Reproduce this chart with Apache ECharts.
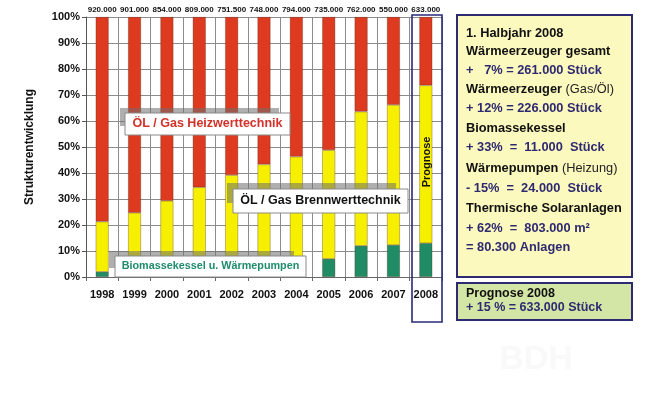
<!DOCTYPE html>
<html>
<head>
<meta charset="utf-8">
<script src="https://cdn.jsdelivr.net/npm/echarts@6/dist/echarts.min.js"></script>
<style>
  html, body { margin: 0; padding: 0; background: #fff; }
  #chart { width: 655px; height: 398px; }
</style>
</head>
<body>
<div id="chart"></div>
<script>
// Jahre
const years = ['1998', '1999', '2000', '2001', '2002', '2003', '2004', '2005', '2006', '2007', '2008'];
// Anteile in %
const biomasse = [2, 2, 2, 2.5, 3, 3.5, 4, 7, 12, 12.3, 13];
const brennwert = [19.3, 22.7, 27.3, 32, 36.2, 39.8, 42.3, 41.8, 51.6, 53.9, 60.7];
const heizwert = [78.7, 75.3, 70.7, 65.5, 60.8, 56.7, 53.7, 51.2, 36.4, 33.8, 26.3];
// Stückzahlen über den Säulen
const totals = ['920.000', '901.000', '854.000', '809.000', '751.500', '748.000', '794.000', '735.000', '762.000', '550.000', '633.000'];
// Kasten rechts
const infoLines = [
    { text: '1. Halbjahr 2008', type: 'head' },
    { text: 'Wärmeerzeuger gesamt', type: 'head' },
    { text: '+   7% = 261.000 Stück', type: 'value' },
    { text: 'Wärmeerzeuger', note: ' (Gas/Öl)', type: 'head' },
    { text: '+ 12% = 226.000 Stück', type: 'value' },
    { text: 'Biomassekessel', type: 'head' },
    { text: '+ 33%  =  11.000  Stück', type: 'value' },
    { text: 'Wärmepumpen', note: ' (Heizung)', type: 'head' },
    { text: '- 15%  =  24.000  Stück', type: 'value' },
    { text: 'Thermische Solaranlagen', type: 'head' },
    { text: '+ 62%  =  803.000 m²', type: 'value' },
    { text: '= 80.300 Anlagen', type: 'value' }
];
const infoY = [33, 51, 70, 89, 108, 128, 147, 168, 188, 208, 228, 247];

const chart = echarts.init(document.getElementById('chart'));

const FONT = 'Liberation Sans, Arial, sans-serif';
const NAVY = '#2e2a72';
const barBorder = { borderColor: 'rgba(80,40,20,0.55)', borderWidth: 0.6 };

// Hinweis-Kästchen mit grauem Schatten
function labelBox(x, y, w, h, dx, dy, text, color, size) {
    return [
        { type: 'rect', z: 100, shape: { x: x - dx, y: y - dy, width: w - 6, height: h - 4 },
          style: { fill: 'rgba(110,110,110,0.55)' } },
        { type: 'rect', z: 101, shape: { x: x, y: y, width: w, height: h },
          style: { fill: '#fff', stroke: '#8a8a8a', lineWidth: 1 } },
        { type: 'text', z: 102, x: x + w / 2, y: y + h / 2,
          style: { text: text, fill: color, font: 'bold ' + size + 'px ' + FONT,
                   textAlign: 'center', textVerticalAlign: 'middle' } }
    ];
}

const graphics = [];
graphics.push(...labelBox(125, 113, 165, 22, 5, 5, 'ÖL / Gas Heizwerttechnik', '#d3322a', 12.5));
graphics.push(...labelBox(233, 189, 175, 24, 6, 6, 'ÖL / Gas Brennwerttechnik', '#111', 12.5));
graphics.push(...labelBox(115, 256, 191, 21, 6, 5, 'Biomassekessel u. Wärmepumpen', '#1e8c6c', 10.8));

// Prognose-Rahmen
graphics.push({ type: 'rect', z: 103, shape: { x: 412, y: 15, width: 30, height: 307 },
    style: { fill: 'none', stroke: '#2a2a78', lineWidth: 1.6 } });
graphics.push({ type: 'text', z: 104, x: 427, y: 162, rotation: Math.PI / 2,
    style: { text: 'Prognose', fill: '#111', font: 'bold 11px ' + FONT,
             textAlign: 'center', textVerticalAlign: 'middle' } });

// Achsentitel
graphics.push({ type: 'text', z: 104, x: 30, y: 147, rotation: Math.PI / 2,
    style: { text: 'Strukturentwicklung', fill: '#111', font: 'bold 12px ' + FONT,
             textAlign: 'center', textVerticalAlign: 'middle' } });

// Gelber Infokasten
graphics.push({ type: 'rect', z: 100, shape: { x: 457, y: 15, width: 175, height: 262 },
    style: { fill: '#fcf9be', stroke: NAVY, lineWidth: 2 } });
infoLines.forEach((line, i) => {
    const rich = {
        h: { fill: '#111', font: 'bold 12.8px ' + FONT },
        v: { fill: NAVY, font: 'bold 12.8px ' + FONT },
        n: { fill: '#222', font: '12.8px ' + FONT }
    };
    let txt = line.type === 'head' ? '{h|' + line.text + '}' : '{v|' + line.text + '}';
    if (line.note) txt += '{n|' + line.note + '}';
    graphics.push({ type: 'text', z: 101, x: 466, y: infoY[i],
        style: { text: txt, rich: rich, textVerticalAlign: 'middle' } });
});

// Grüner Kasten
graphics.push({ type: 'rect', z: 100, shape: { x: 457, y: 283, width: 175, height: 37 },
    style: { fill: '#d4e6a6', stroke: NAVY, lineWidth: 2 } });
graphics.push({ type: 'text', z: 101, x: 466, y: 294,
    style: { text: 'Prognose 2008', fill: '#111', font: 'bold 12.5px ' + FONT, textVerticalAlign: 'middle' } });
graphics.push({ type: 'text', z: 101, x: 466, y: 308,
    style: { text: '+ 15 % = 633.000 Stück', fill: NAVY, font: 'bold 12.5px ' + FONT, textVerticalAlign: 'middle' } });

// Wasserzeichen
graphics.push({ type: 'text', z: 1, x: 536, y: 360,
    style: { text: 'BDH', fill: '#f9f9f9', font: 'bold 34px ' + FONT,
             textAlign: 'center', textVerticalAlign: 'middle' } });

const option = {
    animation: false,
    backgroundColor: '#fff',
    grid: { left: 86, right: 213, top: 17, bottom: 121 },
    xAxis: {
        type: 'category',
        data: years,
        axisLine: { lineStyle: { color: '#666', width: 1 } },
        axisTick: { show: true, length: 4, lineStyle: { color: '#666' } },
        axisLabel: { color: '#111', fontWeight: 'bold', fontSize: 11, fontFamily: FONT, margin: 12 },
        splitLine: { show: true, lineStyle: { color: '#8c8c8c', width: 1 } }
    },
    yAxis: {
        type: 'value',
        min: 0,
        max: 100,
        interval: 10,
        axisLine: { show: true, lineStyle: { color: '#555', width: 1 } },
        axisTick: { show: true, length: 4, lineStyle: { color: '#555' } },
        axisLabel: { formatter: '{value}%', color: '#111', fontWeight: 'bold', fontSize: 11, fontFamily: FONT, margin: 6 },
        splitLine: { lineStyle: { color: '#8c8c8c', width: 1 } }
    },
    series: [
        { name: 'Biomassekessel u. Wärmepumpen', type: 'bar', stack: 'a', barWidth: 13,
          data: biomasse, itemStyle: Object.assign({ color: '#1f8c66' }, barBorder) },
        { name: 'ÖL / Gas Brennwerttechnik', type: 'bar', stack: 'a', barWidth: 13,
          data: brennwert, itemStyle: Object.assign({ color: '#f6f000' }, barBorder) },
        { name: 'ÖL / Gas Heizwerttechnik', type: 'bar', stack: 'a', barWidth: 13,
          data: heizwert, itemStyle: Object.assign({ color: '#de3a1f' }, barBorder),
          label: {
              show: true, position: 'top', distance: 3.5,
              formatter: p => totals[p.dataIndex],
              color: '#111', fontWeight: 'bold', fontSize: 8, fontFamily: FONT
          } }
    ],
    graphic: graphics
};

chart.setOption(option);

window.addEventListener('resize', function() {
    chart.resize();
});
</script>
</body>
</html>
